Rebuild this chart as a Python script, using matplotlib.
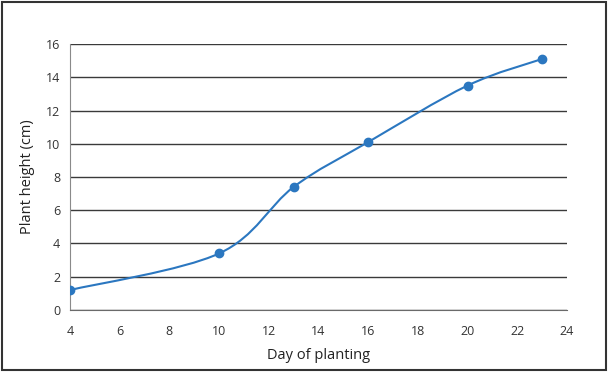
import numpy as np
import matplotlib
matplotlib.use("Agg")
import matplotlib.pyplot as plt
from matplotlib.path import Path
from matplotlib.patches import PathPatch, Rectangle

days = [4, 10, 13, 16, 20, 23]
height_cm = [1.2, 3.4, 7.4, 10.1, 13.5, 15.1]
x_ticks = [4, 6, 8, 10, 12, 14, 16, 18, 20, 22, 24]
y_ticks = [0, 2, 4, 6, 8, 10, 12, 14, 16]

blue = "#2b77c0"
plt.rcParams["font.family"] = ["Open Sans", "DejaVu Sans"]

fig = plt.figure(figsize=(6.08, 3.72), dpi=100)
ax = fig.add_axes([0.1151, 0.1667, 0.8174, 0.715])

# smoothed connecting line: cubic Bezier segments through the points
pts = np.column_stack([days, height_cm]).astype(float)
verts = [pts[0]]
codes = [Path.MOVETO]
n = len(pts)
for i in range(n - 1):
    p0 = pts[i - 1] if i > 0 else pts[i]
    p1 = pts[i]
    p2 = pts[i + 1]
    p3 = pts[i + 2] if i + 2 < n else pts[i + 1]
    c1 = p1 + (p2 - p0) / 6.0
    c2 = p2 - (p3 - p1) / 6.0
    verts += [c1, c2, p2]
    codes += [Path.CURVE4] * 3
ax.add_patch(PathPatch(Path(verts, codes), facecolor="none",
                       edgecolor=blue, lw=1.5, zorder=3))
ax.plot(days, height_cm, "o", color=blue, ms=6, zorder=4)

ax.set_xlim(4, 24)
ax.set_ylim(0, 16)
ax.set_xticks(x_ticks)
ax.set_yticks(y_ticks)
ax.grid(axis="y", color="#3a3a3a", lw=1.0)
ax.set_axisbelow(True)
for s in ["top", "right"]:
    ax.spines[s].set_visible(False)
ax.spines["left"].set_color("#8a8a8a")
ax.spines["bottom"].set_color("#6a6a6a")
ax.tick_params(length=0, labelsize=9, colors="#333333")
ax.tick_params(axis="x", pad=11)
ax.tick_params(axis="y", pad=7)
ax.set_xlabel("Day of planting", fontsize=10.5, color="#222222", labelpad=7)
ax.set_ylabel("Plant height (cm)", fontsize=10.5, color="#222222", labelpad=8)

fig.patches.append(Rectangle((0.004, 0.005), 0.992, 0.99, transform=fig.transFigure,
                             fill=False, edgecolor="#333333", lw=1.5))

fig.savefig("out.png", dpi=100)
